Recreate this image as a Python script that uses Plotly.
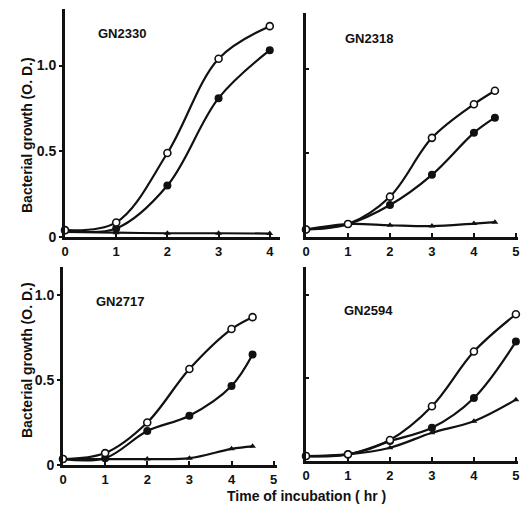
import plotly.graph_objects as go

# ---- data ----
time_2330 = [0, 1, 2, 3, 4]
open_2330 = [0.04, 0.085, 0.49, 1.04, 1.23]
filled_2330 = [0.04, 0.05, 0.30, 0.81, 1.09]
tri_2330 = [0.03, 0.025, 0.022, 0.022, 0.02]

time_2318 = [0, 1, 2, 3, 4, 4.5]
open_2318 = [0.045, 0.077, 0.24, 0.59, 0.79, 0.87]
filled_2318 = [0.045, 0.077, 0.19, 0.37, 0.62, 0.71]
tri_2318 = [0.045, 0.077, 0.07, 0.065, 0.08, 0.088]

time_2717 = [0, 1, 2, 3, 4, 4.5]
open_2717 = [0.035, 0.07, 0.25, 0.565, 0.80, 0.87]
filled_2717 = [0.035, 0.04, 0.20, 0.29, 0.465, 0.65]
tri_2717 = [0.035, 0.035, 0.035, 0.04, 0.095, 0.11]

time_2594 = [0, 1, 2, 3, 4, 5]
open_2594 = [0.03, 0.04, 0.127, 0.33, 0.66, 0.885]
filled_2594 = [0.03, 0.04, 0.12, 0.20, 0.38, 0.72]
tri_2594 = [0.03, 0.04, 0.08, 0.17, 0.24, 0.37]

strains = ["GN2330", "GN2318", "GN2717", "GN2594"]
y_tickvals = [0, 0.5, 1.0]
y_ticktext = ["0", "0.5", "1.0"]

W, H = 530, 505
FONT = "Liberation Sans Narrow, Liberation Sans, Arial Narrow, sans-serif"
INK = "#111111"

panels = [
    dict(t=time_2330, o=open_2330, f=filled_2330, tr=tri_2330,
         px=(65, 280), py=(237, 9), xr=[0, 4.2], yr=[0, 1.33], xt=[0, 1, 2, 3, 4],
         ylab=True, lab=(1.11, 1.19)),
    dict(t=time_2318, o=open_2318, f=filled_2318, tr=tri_2318,
         px=(306, 518), py=(237, 13), xr=[0, 5.05], yr=[0, 1.333], xt=[0, 1, 2, 3, 4, 5],
         ylab=False, lab=(1.5, 1.18)),
    dict(t=time_2717, o=open_2717, f=filled_2717, tr=tri_2717,
         px=(63, 277), py=(465, 267), xr=[0, 5.08], yr=[0, 1.165], xt=[0, 1, 2, 3, 4, 5],
         ylab=True, lab=(1.36, 0.96)),
    dict(t=time_2594, o=open_2594, f=filled_2594, tr=tri_2594,
         px=(306, 518), py=(461, 267), xr=[0, 5.05], yr=[0, 1.17], xt=[0, 1, 2, 3, 4, 5],
         ylab=False, lab=(1.48, 0.91)),
]

fig = go.Figure()
layout = {}
annotations = []
for i, p in enumerate(panels):
    n = "" if i == 0 else str(i + 1)
    xa, ya = "x" + n, "y" + n
    line = dict(color=INK, width=2.2, shape="spline", smoothing=1.0)
    fig.add_trace(go.Scatter(x=p["t"], y=p["tr"], xaxis=xa, yaxis=ya, mode="lines+markers",
                             line=line, marker=dict(symbol="triangle-up", size=6, color=INK),
                             showlegend=False, cliponaxis=False, hoverinfo="skip"))
    fig.add_trace(go.Scatter(x=p["t"], y=p["f"], xaxis=xa, yaxis=ya, mode="lines+markers",
                             line=line, marker=dict(symbol="circle", size=8, color=INK),
                             showlegend=False, cliponaxis=False, hoverinfo="skip"))
    fig.add_trace(go.Scatter(x=p["t"], y=p["o"], xaxis=xa, yaxis=ya, mode="lines+markers",
                             line=line, marker=dict(symbol="circle", size=7, color="white",
                                                    line=dict(color=INK, width=1.6)),
                             showlegend=False, cliponaxis=False, hoverinfo="skip"))
    x0, x1 = p["px"]
    yb, yt = p["py"]
    layout["xaxis" + n] = dict(
        domain=[x0 / W, x1 / W], range=p["xr"], anchor=ya, automargin=False,
        showline=True, linecolor=INK, linewidth=3, showgrid=False, zeroline=False,
        tickmode="array", tickvals=p["xt"], ticktext=[str(v) for v in p["xt"]],
        ticks="inside", ticklen=4, tickwidth=2, tickcolor=INK,
        tickfont=dict(family=FONT, size=13, color=INK, weight="bold"),
    )
    layout["yaxis" + n] = dict(
        domain=[1 - yb / H, 1 - yt / H], range=p["yr"], anchor=xa, automargin=False,
        showline=True, linecolor=INK, linewidth=3, showgrid=False, zeroline=False,
        tickmode="array", tickvals=y_tickvals,
        ticktext=y_ticktext if p["ylab"] else ["", "", ""],
        ticks="outside" if p["ylab"] else "inside", ticklen=3, tickwidth=2, tickcolor=INK,
        tickfont=dict(family=FONT, size=14, color=INK, weight="bold"),
    )
    annotations.append(dict(
        x=p["lab"][0], y=p["lab"][1], xref=xa, yref=ya, text=strains[i], showarrow=False,
        xanchor="center", yanchor="middle",
        font=dict(family=FONT, size=13, color=INK, weight="bold")))

for yc in (135, 360):
    annotations.append(dict(x=27 / W, y=1 - yc / H, xref="paper", yref="paper",
                            xanchor="center", yanchor="middle",
                            text="Bacterial growth (O. D.)", textangle=-90, showarrow=False,
                            font=dict(family=FONT, size=14, color=INK, weight="bold")))
annotations.append(dict(x=306 / W, y=1 - 496 / H, xref="paper", yref="paper",
                        xanchor="center", yanchor="middle",
                        text="Time of incubation ( hr )", showarrow=False,
                        font=dict(family=FONT, size=14, color=INK, weight="bold")))

fig.update_layout(
    width=W, height=H, margin=dict(l=0, r=0, t=0, b=0),
    paper_bgcolor="white", plot_bgcolor="white", hovermode=False,
    annotations=annotations, **layout,
)

fig.write_html("out.html", config={"displayModeBar": False},
               post_script="document.body.style.margin='0';document.body.style.overflow='hidden';")
